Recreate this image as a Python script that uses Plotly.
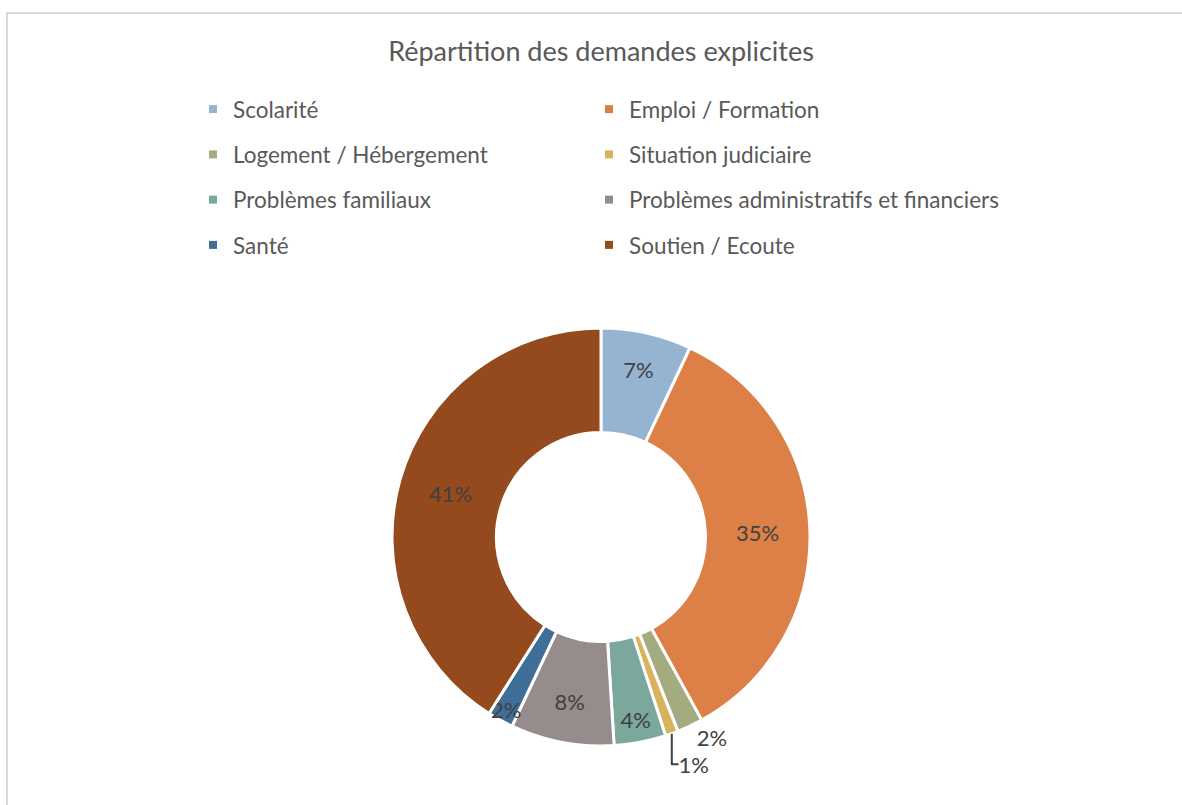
import plotly.graph_objects as go

# --- data -----------------------------------------------------------------
categories = [
    "Scolarité",
    "Emploi / Formation",
    "Logement / Hébergement",
    "Situation judiciaire",
    "Problèmes familiaux",
    "Problèmes administratifs et financiers",
    "Santé",
    "Soutien / Ecoute",
]
shares = [7, 35, 2, 1, 4, 8, 2, 41]  # % of explicit requests
title_text = "Répartition des demandes explicites"

# --- style ----------------------------------------------------------------
SLICE_COLORS = ["#95B4D2", "#DD8047", "#A5AB81", "#D8B25C",
                "#7BA79D", "#968C8C", "#3F6E99", "#944A1C"]
FONT = "Lato, 'Open Sans', sans-serif"
INK = "#595959"
LABEL_INK = "#404040"
FRAME = "#d9d9d9"
W, H = 1182, 805

# tiny slices get their label outside the ring, like the original
text_pos = ["outside" if s <= 1 or (s <= 2 and i < 4) else "inside" for i, s in enumerate(shares)]

fig = go.Figure()
fig.add_trace(go.Pie(
    labels=categories, values=shares, sort=False, direction="clockwise", rotation=0,
    hole=0.5,
    marker=dict(colors=SLICE_COLORS, line=dict(color="white", width=3)),
    texttemplate="%{value}%", textposition=text_pos, insidetextorientation="horizontal",
    textfont=dict(family=FONT, size=22, color=LABEL_INK),
    domain=dict(x=[392 / W, 810 / W], y=[1 - 746 / H, 1 - 328 / H]),
    showlegend=False, hoverinfo="label+percent",
))

# legend entries: two columns, read left->right then down
for i, (name, col) in enumerate(zip(categories, SLICE_COLORS)):
    fig.add_trace(go.Scatter(
        x=[None], y=[None], mode="markers", name=name,
        marker=dict(symbol="square", size=8, color=col),
        legend="legend" if i % 2 == 0 else "legend2", legendgroup=name,
        hoverinfo="skip",
    ))

legend_common = dict(
    font=dict(family=FONT, size=22.5, color=INK), tracegroupgap=13,
    bgcolor="rgba(0,0,0,0)", xanchor="left", yanchor="top", orientation="v",
)

fig.update_layout(
    width=W, height=H,
    margin=dict(l=0, r=0, t=0, b=0),
    paper_bgcolor="white", plot_bgcolor="white",
    title=dict(text=title_text, font=dict(family=FONT, size=27, color=INK),
               x=601 / W, xanchor="center", y=1 - 52 / H, yanchor="middle"),
    xaxis=dict(visible=False), yaxis=dict(visible=False),
    legend=dict(x=193 / W, y=1 - 88 / H, **legend_common),
    legend2=dict(x=589 / W, y=1 - 88 / H, **legend_common),
    uniformtext=dict(minsize=22, mode="show"),
    shapes=[dict(type="rect", xref="paper", yref="paper",
                 x0=7 / W, x1=1.05, y0=-0.05, y1=1 - 13 / H,
                 line=dict(color=FRAME, width=2), fillcolor="rgba(0,0,0,0)")],
)

# the page's default 8px body margin would push the figure off-window
fig.write_html("out.html", config={"displayModeBar": False},
               post_script="document.body.style.margin='0';")
